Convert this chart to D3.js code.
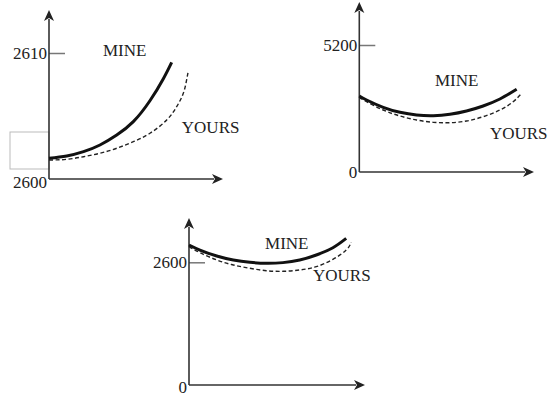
<!DOCTYPE html>
<html>
<head>
  <meta charset="UTF-8" />
  <style>
    body { margin: 0; background: #fff; }
    svg text { font-family: 'Liberation Serif', 'Times New Roman', serif; font-size: 17px; fill: #222; }
    .axis-line { stroke: #333; stroke-width: 1.6px; }
    .tick line { stroke: #777; stroke-width: 1.5px; }
    .mine { fill: none; stroke: #111; stroke-width: 3px; }
    .yours { fill: none; stroke: #222; stroke-width: 1.4px; stroke-dasharray: 4 2.5; }
  </style>
</head>
<body>
  <svg id="chart" width="550" height="396"></svg>
  <script src="https://d3js.org/d3.v7.min.js"></script>
  <script>
    // panel 1 (top left)
    const mine1 = [[0,2601.65],[1.07,2601.83],[2.08,2602.17],[3.07,2602.7],[4.08,2603.49],[5.08,2604.55],[6.08,2606.21],[6.88,2607.94],[7.39,2609.26]];
    const yours1 = [[0,2601.51],[1.07,2601.56],[2.08,2601.77],[3.07,2602.04],[4.08,2602.44],[5.08,2602.96],[6.08,2603.63],[7.09,2604.68],[7.69,2605.74],[8.09,2606.8],[8.29,2607.86],[8.39,2608.57]];
    const ticks1 = [2600, 2610];

    // panel 2 (top right)
    const mine2 = [[0,3112],[0.44,2948],[1.44,2648],[2.45,2443],[3.45,2333],[4.46,2305],[5.46,2362],[6.46,2497],[7.46,2702],[8.47,2988],[9.48,3385]];
    const yours2 = [[0,3058],[0.44,2879],[1.44,2538],[2.45,2293],[3.45,2129],[4.46,2034],[5.46,2020],[6.46,2088],[7.46,2264],[8.47,2538],[9.27,2879],[9.78,3221]];
    const ticks2 = [0, 5200];

    // panel 3 (bottom)
    const mine3 = [[0,2967],[0.66,2860],[1.67,2733],[2.67,2649],[3.67,2600],[4.66,2578],[5.66,2593],[6.67,2649],[7.67,2755],[8.67,2909],[9.47,3106]];
    const yours3 = [[0,2931],[0.66,2804],[1.67,2649],[2.67,2543],[3.67,2473],[4.66,2422],[5.66,2409],[6.67,2437],[7.67,2507],[8.67,2663],[9.47,2860],[9.77,3023]];
    const ticks3 = [0, 2600];

    const labels1 = [["MINE", 3.25, 2609.76], ["YOURS", 8.0, 2603.65]];
    const labels2 = [["MINE", 4.56, 3521], ["YOURS", 7.87, 1351]];
    const labels3 = [["MINE", 4.58, 2882], ["YOURS", 7.47, 2204]];

    const panels = [
      { ox: 49, oy: 179, topY: 53, yTip: 10, xTip: 223, ticks: ticks1, mine: mine1, yours: yours1, labels: labels1, box: true, oLabelDy: 3 },
      { ox: 359.3, oy: 172, topY: 45, yTip: 2, xTip: 534, ticks: ticks2, mine: mine2, yours: yours2, labels: labels2, oLabelDy: 0 },
      { ox: 189, oy: 385, topY: 262.3, yTip: 218, xTip: 365, ticks: ticks3, mine: mine3, yours: yours3, labels: labels3, oLabelDy: 2 }
    ];

    const svg = d3.select("#chart");

    function arrow(g, x1, y1, x2, y2) {
      const ang = Math.atan2(y2 - y1, x2 - x1);
      const len = 11, half = 5;
      const bx = x2 - len * Math.cos(ang), by = y2 - len * Math.sin(ang);
      g.append("line").attr("class", "axis-line")
        .attr("x1", x1).attr("y1", y1).attr("x2", bx + 2 * Math.cos(ang)).attr("y2", by + 2 * Math.sin(ang));
      const px = -Math.sin(ang) * half, py = Math.cos(ang) * half;
      g.append("path")
        .attr("d", `M${x2},${y2}L${bx + px},${by + py}L${bx + 3 * Math.cos(ang)},${by + 3 * Math.sin(ang)}L${bx - px},${by - py}Z`)
        .attr("fill", "#222");
    }

    panels.forEach(p => {
      const g = svg.append("g");
      const x = d3.scaleLinear().domain([0, 10]).range([p.ox, p.ox + 166]);
      const y = d3.scaleLinear().domain(p.ticks).range([p.oy, p.topY]);

      if (p.box) {
        g.append("rect")
          .attr("x", 10).attr("y", 132).attr("width", p.ox - 10).attr("height", 37)
          .attr("fill", "none").attr("stroke", "#bbb").attr("stroke-width", 1);
      }

      const ax = g.append("g").attr("transform", `translate(${p.ox},0)`)
        .call(d3.axisLeft(y).tickValues(p.ticks).tickSize(-16).tickPadding(2).tickFormat(d3.format("d")));
      ax.select(".domain").remove();
      ax.selectAll(".tick text").attr("font-size", null).attr("font-family", null).attr("fill", null)
        .attr("dy", null).attr("dominant-baseline", "central");
      const origin = ax.selectAll(".tick").filter(d => d === p.ticks[0]);
      origin.select("line").remove();
      origin.select("text").attr("y", p.oLabelDy);

      arrow(g, p.ox, p.oy, p.ox, p.yTip);
      arrow(g, p.ox, p.oy, p.xTip, p.oy);

      const line = d3.line().x(d => x(d[0])).y(d => y(d[1])).curve(d3.curveNatural);
      g.append("path").attr("class", "yours").attr("d", line(p.yours));
      g.append("path").attr("class", "mine").attr("d", line(p.mine));

      p.labels.forEach(l => {
        g.append("text").attr("x", x(l[1])).attr("y", y(l[2])).text(l[0]);
      });
    });
  </script>
</body>
</html>
